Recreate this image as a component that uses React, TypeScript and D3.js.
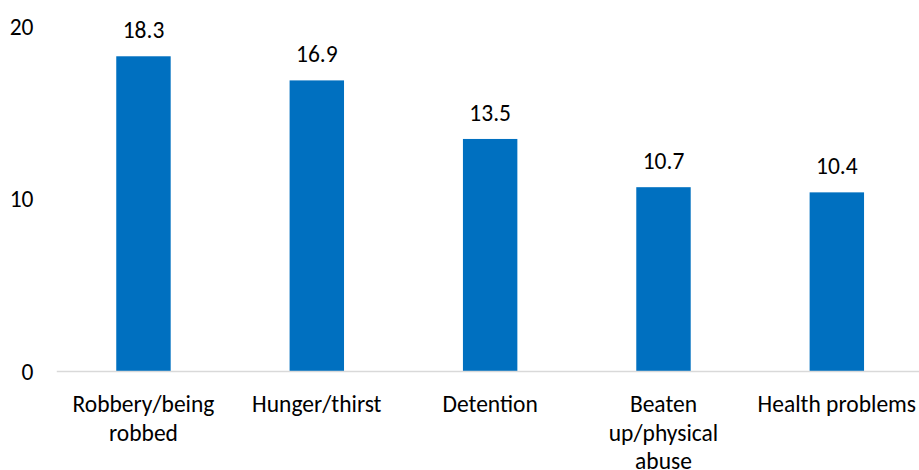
import React, { useEffect, useRef } from "react";
import * as d3 from "d3";

const categories = [
  "Robbery/being robbed",
  "Hunger/thirst",
  "Detention",
  "Beaten up/physical abuse",
  "Health problems",
];
const values = [18.3, 16.9, 13.5, 10.7, 10.4];
const yTicks = [0, 10, 20];

const W = 919;
const H = 470;
const FONT = "Carlito, Calibri, Lato, 'Open Sans', sans-serif";
const FS = 23.5;

export default function App() {
  const ref = useRef<SVGSVGElement | null>(null);

  useEffect(() => {
    const svg = d3.select(ref.current);
    svg.selectAll("*").remove();

    const x = d3
      .scaleBand<string>()
      .domain(categories)
      .range([56.8, 923.5])
      .paddingInner(0.686)
      .paddingOuter(0.343);
    const y = d3.scaleLinear().domain([0, 20]).range([371.5, 27]);

    const g = svg.append("g").attr("font-family", FONT);

    g.selectAll("rect.bar")
      .data(values)
      .enter()
      .append("rect")
      .attr("class", "bar")
      .attr("x", (_, i) => x(categories[i])!)
      .attr("width", x.bandwidth())
      .attr("y", (d) => y(d))
      .attr("height", (d) => y(0) - y(d))
      .attr("fill", "#0070C0");

    g.append("line")
      .attr("x1", 56.8)
      .attr("x2", 923.5)
      .attr("y1", y(0))
      .attr("y2", y(0))
      .attr("stroke", "#D9D9D9")
      .attr("stroke-width", 1.5);

    g.selectAll("text.ytick")
      .data(yTicks)
      .enter()
      .append("text")
      .attr("class", "ytick")
      .attr("x", 33.5)
      .attr("y", (d) => y(d))
      .attr("dy", "0.35em")
      .attr("text-anchor", "end")
      .attr("font-size", FS)
      .attr("fill", "#000")
      .text((d) => String(d));

    g.selectAll("text.val")
      .data(values)
      .enter()
      .append("text")
      .attr("class", "val")
      .attr("x", (_, i) => x(categories[i])! + x.bandwidth() / 2)
      .attr("y", (d) => y(d) - 18)
      .attr("text-anchor", "middle")
      .attr("font-size", FS)
      .attr("fill", "#000")
      .text((d) => d.toFixed(1));

    const maxW = x.step() * 0.97;
    categories.forEach((c) => {
      const cx = x(c)! + x.bandwidth() / 2;
      const t = g
        .append("text")
        .attr("x", cx)
        .attr("y", 412)
        .attr("text-anchor", "middle")
        .attr("font-size", FS)
        .attr("fill", "#000");
      const words = c.split(" ");
      let line: string[] = [];
      let lineNo = 0;
      let tspan = t.append("tspan").attr("x", cx).attr("y", 412);
      words.forEach((w) => {
        line.push(w);
        tspan.text(line.join(" "));
        if ((tspan.node() as SVGTSpanElement).getComputedTextLength() > maxW && line.length > 1) {
          line.pop();
          tspan.text(line.join(" "));
          line = [w];
          lineNo++;
          tspan = t
            .append("tspan")
            .attr("x", cx)
            .attr("y", 412 + lineNo * 28.5)
            .text(w);
        }
      });
    });
  }, []);

  return (
    <svg
      ref={ref}
      width={W}
      height={H}
      style={{ position: "absolute", left: 0, top: 0, background: "#fff" }}
    />
  );
}
